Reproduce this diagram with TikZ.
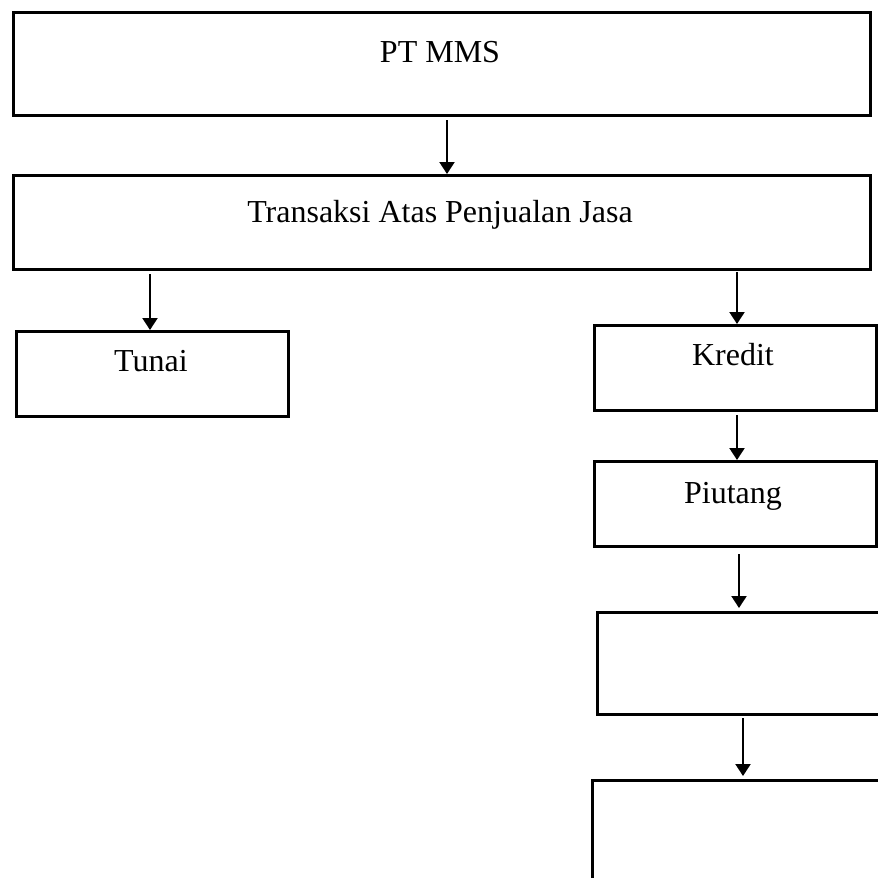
\documentclass[tikz,border=0pt]{standalone}
\usepackage{fontspec}
\setmainfont{Liberation Serif}
\usetikzlibrary{arrows.meta}
\begin{document}
\begin{tikzpicture}[x=1pt,y=-1pt,
  box/.style={draw=black,line width=2.8pt,rectangle,inner sep=0pt,anchor=north west},
  lbl/.style={font=\fontsize{32}{38}\selectfont,anchor=base,inner sep=0pt},
  arr/.style={line width=2.2pt,-{Triangle[length=12pt,width=15pt]}}]
\useasboundingbox (0,0) rectangle (878,878);
\clip (0,0) rectangle (878,878);
\node[box,minimum width=857,minimum height=103] (b1) at (12,11) {};
\node[lbl] (t1) at (440,62) {PT MMS};
\node[box,minimum width=857,minimum height=94] (b2) at (12,174) {};
\node[lbl] (t2) at (440,222) {Transaksi Atas Penjualan Jasa};
\node[box,minimum width=272,minimum height=85] (tunai) at (15,330) {};
\node[lbl] (t3) at (151,371) {Tunai};
\node[box,minimum width=282,minimum height=85] (kredit) at (593,324) {};
\node[lbl] (t4) at (733,365) {Kredit};
\node[box,minimum width=282,minimum height=85] (piutang) at (593,460) {};
\node[lbl] (t5) at (733,503) {Piutang};
\node[box,minimum width=320,minimum height=102] (b5) at (596,611) {};
\node[box,minimum width=320,minimum height=140] (b6) at (591,779) {};
\coordinate (a1) at (447,120);
\coordinate (a2) at (150,274);
\coordinate (a3) at (737,272);
\coordinate (a4) at (737,415);
\coordinate (a5) at (739,554);
\coordinate (a6) at (743,718);
\draw[arr] (a1) -- (a1 |- b2.north);
\draw[arr] (a2) -- (a2 |- tunai.north);
\draw[arr] (a3) -- (a3 |- kredit.north);
\draw[arr] (a4) -- (a4 |- piutang.north);
\draw[arr] (a5) -- ([yshift=3]a5 |- b5.north);
\draw[arr] (a6) -- ([yshift=3]a6 |- b6.north);
\end{tikzpicture}
\end{document}
